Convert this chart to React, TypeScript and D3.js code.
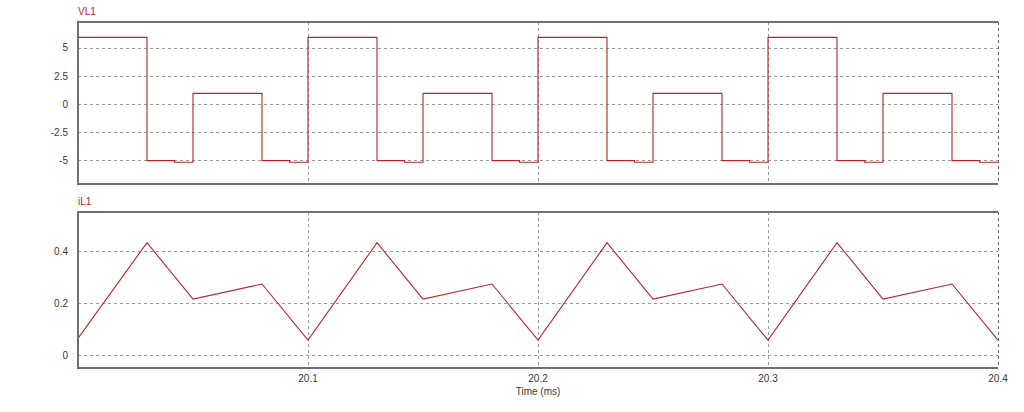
import React from "react";
import * as d3 from "d3";

const W = 1024;
const H = 412;

// VL1 step waveform (value holds from each time until the next)
const vlTimes = [
  20.0, 20.03, 20.042, 20.05, 20.08, 20.092,
  20.1, 20.13, 20.142, 20.15, 20.18, 20.192,
  20.2, 20.23, 20.242, 20.25, 20.28, 20.292,
  20.3, 20.33, 20.342, 20.35, 20.38, 20.392,
  20.4,
];
const vlValues = [
  5.95, -5.05, -5.2, 0.95, -5.05, -5.2,
  5.95, -5.05, -5.2, 0.95, -5.05, -5.2,
  5.95, -5.05, -5.2, 0.95, -5.05, -5.2,
  5.95, -5.05, -5.2, 0.95, -5.05, -5.2,
  -5.2,
];

// iL1 piecewise-linear waveform
const ilTimes = [
  20.0, 20.03, 20.05, 20.08,
  20.1, 20.13, 20.15, 20.18,
  20.2, 20.23, 20.25, 20.28,
  20.3, 20.33, 20.35, 20.38,
  20.4,
];
const ilValues = [
  0.065, 0.433, 0.216, 0.274,
  0.058, 0.433, 0.216, 0.274,
  0.058, 0.433, 0.216, 0.274,
  0.058, 0.433, 0.216, 0.274,
  0.058,
];

const xTicks = [20.1, 20.2, 20.3, 20.4];
const vlTicks = [5, 2.5, 0, -2.5, -5];
const ilTicks = [0.4, 0.2, 0];

const LINE = "#b8242c";
const FRAME = "#707070";
const GRID = "#9a9a9a";
const TXT = "#3a3a3a";
const FONT = "Arial, 'Liberation Sans', sans-serif";

const left = 78;
const right = 998;
const p1 = { top: 22, bottom: 184 };
const p2 = { top: 212, bottom: 368 };

export default function App() {
  const x = d3.scaleLinear().domain([20.0, 20.4]).range([left, right]);
  const y1 = d3.scaleLinear().domain([-7.14, 7.32]).range([p1.bottom, p1.top]);
  const y2 = d3.scaleLinear().domain([-0.049, 0.551]).range([p2.bottom, p2.top]);

  const vlData = vlTimes.map((t, i) => [t, vlValues[i]] as [number, number]);
  const ilData = ilTimes.map((t, i) => [t, ilValues[i]] as [number, number]);

  const vlLine = d3
    .line<[number, number]>()
    .x((d) => x(d[0]))
    .y((d) => y1(d[1]))
    .curve(d3.curveStepAfter);
  const ilLine = d3
    .line<[number, number]>()
    .x((d) => x(d[0]))
    .y((d) => y2(d[1]));

  const panel = (
    p: { top: number; bottom: number },
    y: d3.ScaleLinear<number, number>,
    ticks: number[],
    fmt: (v: number) => string,
    label: string,
    path: string,
    showX: boolean
  ) => (
    <g>
      <rect x={left} y={p.top} width={right - left} height={p.bottom - p.top} fill="#fff" />
      {ticks.map((t) => (
        <g key={"h" + t}>
          <line
            x1={left}
            x2={right}
            y1={Math.round(y(t)) + 0.5}
            y2={Math.round(y(t)) + 0.5}
            stroke={GRID}
            strokeDasharray="3,3"
            strokeWidth={1}
          />
          <text
            x={left - 10}
            y={y(t)}
            dy="0.35em"
            textAnchor="end"
            fontSize={10}
            fill={TXT}
            fontFamily={FONT}
          >
            {fmt(t)}
          </text>
        </g>
      ))}
      {xTicks.map((t) => (
        <line
          key={"v" + t}
          x1={Math.round(x(t)) + 0.5}
          x2={Math.round(x(t)) + 0.5}
          y1={p.top}
          y2={p.bottom}
          stroke={t === 20.4 ? "#666" : GRID}
          strokeDasharray="3,3"
          strokeWidth={1}
        />
      ))}
      <path d={path} fill="none" stroke={LINE} strokeWidth={1.1} />
      <path
        d={`M${right},${p.top}H${left}V${p.bottom}H${right}`}
        fill="none"
        stroke={FRAME}
        strokeWidth={2}
      />
      <text x={left} y={p.top - 7.5} fontSize={10} fill={LINE} fontFamily={FONT}>
        {label}
      </text>
      {showX &&
        xTicks.map((t) => (
          <text
            key={"xt" + t}
            x={x(t)}
            y={p.bottom + 14}
            textAnchor="middle"
            fontSize={10}
            fill={TXT}
            fontFamily={FONT}
          >
            {d3.format(".1f")(t)}
          </text>
        ))}
    </g>
  );

  return (
    <svg
      width={W}
      height={H}
      style={{ position: "absolute", left: 0, top: 0, background: "#fff" }}
    >
      <rect width={W} height={H} fill="#fff" />
      {panel(p1, y1, vlTicks, (v) => String(v), "VL1", vlLine(vlData) || "", false)}
      {panel(p2, y2, ilTicks, (v) => String(v), "iL1", ilLine(ilData) || "", true)}
      <text
        x={x(20.2)}
        y={395}
        textAnchor="middle"
        fontSize={10}
        fill={TXT}
        fontFamily={FONT}
      >
        Time (ms)
      </text>
    </svg>
  );
}
